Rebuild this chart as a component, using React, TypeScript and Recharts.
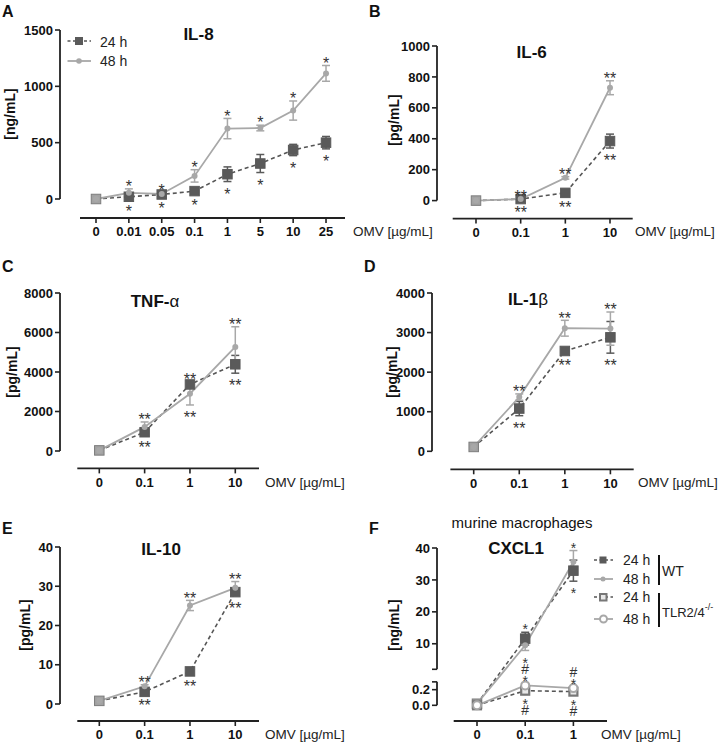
import React from 'react';
import { LineChart, Line, XAxis, YAxis, ErrorBar, ReferenceLine, LabelList } from 'recharts';

const FONT = '"Liberation Sans", Arial, Helvetica, sans-serif';
const DARK = '#5a5a5a';
const LIGHT = '#a8a8a8';
const AXIS = '#222';
const STAR = '#333';

// ---------- Panel A: IL-8 ----------
const il8Doses = ['0', '0.01', '0.05', '0.1', '1', '5', '10', '25'];
const il8H24 = [0, 20, 40, 70, 220, 315, 435, 500];
const il8H24Err = [0, 15, 10, 15, 65, 80, 50, 55];
const il8H48 = [0, 55, 45, 205, 625, 630, 785, 1115];
const il8H48Err = [0, 35, 10, 55, 90, 25, 85, 70];
const il8StarsTop = ['', '*', '*', '*', '*', '*', '*', '*'];
const il8StarsBottom = ['', '*', '*', '*', '*', '*', '*', '*'];
const il8Ticks = [0, 500, 1000, 1500];

// ---------- Panel B: IL-6 ----------
const doses4 = ['0', '0.1', '1', '10'];
const il6H24 = [0, 10, 50, 385];
const il6H24Err = [0, 5, 10, 45];
const il6H48 = [0, 10, 147, 730];
const il6H48Err = [0, 5, 8, 45];
const il6StarsTop = ['', '**', '**', '**'];
const il6StarsBottom = ['', '**', '**', '**'];
const il6Ticks = [0, 200, 400, 600, 800, 1000];

// ---------- Panel C: TNF-α ----------
const tnfH24 = [30, 950, 3370, 4390];
const tnfH24Err = [0, 150, 150, 450];
const tnfH48 = [30, 1220, 2900, 5270];
const tnfH48Err = [0, 250, 570, 1020];
const tnfStarsTop = ['', '**', '**', '**'];
const tnfStarsBottom = ['', '**', '**', '**'];
const tnfTicks = [0, 2000, 4000, 6000, 8000];

// ---------- Panel D: IL-1β ----------
const il1bH24 = [110, 1080, 2535, 2880];
const il1bH24Err = [0, 180, 45, 400];
const il1bH48 = [110, 1370, 3110, 3100];
const il1bH48Err = [0, 80, 200, 420];
const il1bStarsTop = ['', '**', '**', '**'];
const il1bStarsBottom = ['', '**', '**', '**'];
const il1bTicks = [0, 1000, 2000, 3000, 4000];

// ---------- Panel E: IL-10 ----------
const il10H24 = [0.8, 3.1, 8.3, 28.5];
const il10H24Err = [0, 0.3, 0.5, 0.8];
const il10H48 = [0.8, 4.5, 25.1, 29.6];
const il10H48Err = [0, 0.4, 1.3, 1.6];
const il10StarsTop = ['', '**', '**', '**'];
const il10StarsBottom = ['', '**', '**', '**'];
const il10Ticks = [0, 10, 20, 30, 40];

// ---------- Panel F: CXCL1 (murine macrophages) ----------
const cxclDoses = ['0', '0.1', '1'];
const cxclWt24 = [0.02, 11.6, 32.9];
const cxclWt24Err = [0, 2.0, 3.3];
const cxclWt48 = [0.02, 9.5, 35.7];
const cxclWt48Err = [0, 1.6, 3.5];
const cxclTlr24 = [0.0, 0.187, 0.175];
const cxclTlr24Err = [0, 0.02, 0.02];
const cxclTlr48 = [0.0, 0.255, 0.22];
const cxclTlr48Err = [0, 0.02, 0.02];
const cxclWtTop = ['', '*', '*'];
const cxclWtBottom = ['', '*', '*'];
const cxclTlrTop = ['', '#\n*', '#\n*'];
const cxclTlrBottom = ['', '*\n#', '*\n#'];
const cxclTickValues = [0, 0.2, 0.3, 2, 10, 20, 30, 40];
const cxclTickLabels = ['0.0', '0.2', '', '', '10', '20', '30', '40'];

// broken-axis mapping for panel F (lower segment 0–0.3, upper segment 2–40)
const F_LOW_MAX = 0.3, F_HIGH_MIN = 2, F_HIGH_MAX = 40;
const F_LOW_SPAN = 23.5, F_GAP_SPAN = 12.6, F_HIGH_SPAN = 121.6;
const brk = (v: number) =>
  v <= F_LOW_MAX
    ? (v / F_LOW_MAX) * F_LOW_SPAN
    : v >= F_HIGH_MIN
    ? F_LOW_SPAN + F_GAP_SPAN + ((v - F_HIGH_MIN) / (F_HIGH_MAX - F_HIGH_MIN)) * F_HIGH_SPAN
    : F_LOW_SPAN + ((v - F_LOW_MAX) / (F_HIGH_MIN - F_LOW_MAX)) * F_GAP_SPAN;

type Layout = {
  plotLeft: number; plotRight: number; axisStartX: number; tick0X: number; stepX: number;
  plotTop: number; yTopVal: number; zeroY: number; plotBottom: number;
};
type SeriesDef = { key: string; errKey: string; color: string; lineColor: string; dash?: string; width: number; marker: string };
type LabelDef = { key: string; textKey: string; dir: 'up' | 'down' };

function makeDot(marker: string, color: string) {
  return (p: any) => {
    const { cx, cy, index } = p;
    if (cx == null || cy == null || Number.isNaN(cy)) return <g key={`n${index}`} />;
    if (marker === 'square') {
      const s = 9.5;
      const zero = index === 0;
      return (
        <rect key={`s${index}`} x={cx - s / 2} y={cy - s / 2} width={s} height={s}
          fill={zero ? '#a2a2a2' : color} stroke={zero ? '#7c7c7c' : color} strokeWidth={1} />
      );
    }
    if (marker === 'circle') return <circle key={`c${index}`} cx={cx} cy={cy} r={3} fill={color} />;
    if (marker === 'hsquare') {
      const s = 8;
      return <rect key={`h${index}`} x={cx - s / 2} y={cy - s / 2} width={s} height={s} fill="#e8e8e8" stroke={color} strokeWidth={2.2} />;
    }
    return <circle key={`o${index}`} cx={cx} cy={cy} r={4} fill="#fff" stroke={color} strokeWidth={2} />;
  };
}

function makeStarLabel(dir: 'up' | 'down', fs: number) {
  return (props: any) => {
    const t = props.value;
    if (!t || typeof t !== 'string') return null;
    const x = props.x ?? props.viewBox?.x;
    const y = props.y ?? props.viewBox?.y;
    if (x == null || y == null) return null;
    const lines = t.split('\n');
    const step = 9;
    return (
      <text x={x} textAnchor="middle" fontSize={fs} fontFamily={FONT} fill={STAR}>
        {lines.map((ln, k) => {
          const center = dir === 'up' ? y - 6 - (lines.length - 1 - k) * step : y + 9 + k * step;
          const base = center + (ln.includes('#') ? 0.36 : 0.58) * fs;
          return (
            <tspan key={k} x={x} y={base}>{ln}</tspan>
          );
        })}
      </text>
    );
  };
}

const tickStyle = { fontFamily: FONT, fontWeight: 'bold' as const, fontSize: 13, fill: '#111' };

function Panel(props: {
  layout: Layout; rows: any[]; xLabels: string[]; yTicks: number[];
  yFmt: (v: number) => string; ySegments: number[][]; series: SeriesDef[]; labels: LabelDef[]; starFs: number;
}) {
  const { layout: L, rows, xLabels, yTicks, yFmt, ySegments, series, labels, starFs } = props;
  const YW = 50, MT = 25, MR = 8, XH = 30;
  const k = (L.zeroY - L.plotTop) / L.yTopVal;
  const yMin = -(L.plotBottom - L.zeroY) / k;
  const xMin = (L.plotLeft - L.tick0X) / L.stepX;
  const xMax = (L.plotRight - L.tick0X) / L.stepX;
  const xAxisStart = (L.axisStartX - L.tick0X) / L.stepX;
  const w = L.plotRight - L.plotLeft + YW + MR;
  const h = L.plotBottom - L.plotTop + MT + XH;
  return (
    <div style={{ position: 'absolute', left: L.plotLeft - YW, top: L.plotTop - MT }}>
      <LineChart width={w} height={h} data={rows} margin={{ top: MT, right: MR, bottom: 0, left: 0 }}>
        <XAxis type="number" dataKey="i" domain={[xMin, xMax]} allowDataOverflow
          ticks={xLabels.map((_, i) => i)} interval={0}
          tickFormatter={(v: number) => xLabels[Math.round(v)] ?? ''}
          axisLine={false} tickLine={{ stroke: AXIS, strokeWidth: 1.6 }} tickSize={5} tickMargin={4}
          tick={tickStyle} height={XH} />
        <YAxis type="number" domain={[yMin, L.yTopVal]} allowDataOverflow ticks={yTicks} interval={0}
          tickFormatter={yFmt} axisLine={false} tickLine={{ stroke: AXIS, strokeWidth: 1.6 }}
          tickSize={5} tickMargin={2} tick={tickStyle} width={YW} />
        <ReferenceLine segment={[{ x: xAxisStart, y: yMin }, { x: xMax, y: yMin }]}
          stroke={AXIS} strokeWidth={1.8} ifOverflow="visible" />
        {ySegments.map((s, j) => (
          <ReferenceLine key={`ys${j}`} segment={[{ x: xMin, y: s[0] }, { x: xMin, y: s[1] }]}
            stroke={AXIS} strokeWidth={1.8} ifOverflow="visible" />
        ))}
        {series.map((s) => (
          <Line key={s.key} type="linear" dataKey={s.key} stroke={s.lineColor} strokeWidth={s.width}
            strokeDasharray={s.dash} dot={makeDot(s.marker, s.color)} activeDot={false}
            isAnimationActive={false} legendType="none">
            <ErrorBar dataKey={s.errKey} width={4} strokeWidth={1.5} stroke={s.color} direction="y" />
          </Line>
        ))}
        {labels.map((l) => (
          <Line key={l.key} type="linear" dataKey={l.key} stroke="none" dot={false} activeDot={false}
            isAnimationActive={false} legendType="none">
            <LabelList dataKey={l.textKey} content={makeStarLabel(l.dir, starFs)} />
          </Line>
        ))}
      </LineChart>
    </div>
  );
}

function buildRows(h24: number[], e24: number[], h48: number[], e48: number[], top: string[], bottom: string[]) {
  return h24.map((v, i) => ({
    i,
    h24: v, e24: e24[i], h48: h48[i], e48: e48[i],
    top: Math.max(v + e24[i], h48[i] + e48[i]),
    bot: Math.min(v - e24[i], h48[i] - e48[i]),
    topTxt: top[i], botTxt: bottom[i],
  }));
}

const stdSeries: SeriesDef[] = [
  { key: 'h24', errKey: 'e24', color: DARK, lineColor: '#555', dash: '4 3', width: 1.6, marker: 'square' },
  { key: 'h48', errKey: 'e48', color: LIGHT, lineColor: LIGHT, width: 1.8, marker: 'circle' },
];
const stdLabels: LabelDef[] = [
  { key: 'top', textKey: 'topTxt', dir: 'up' },
  { key: 'bot', textKey: 'botTxt', dir: 'down' },
];

const brkErr = (v: number, e: number) => [brk(v) - brk(v - e), brk(v + e) - brk(v)];
const fRows = cxclDoses.map((_, i) => ({
  i,
  wt24: brk(cxclWt24[i]), wt24e: brkErr(cxclWt24[i], cxclWt24Err[i]),
  wt48: brk(cxclWt48[i]), wt48e: brkErr(cxclWt48[i], cxclWt48Err[i]),
  tlr24: brk(cxclTlr24[i]), tlr24e: brkErr(cxclTlr24[i], cxclTlr24Err[i]),
  tlr48: brk(cxclTlr48[i]), tlr48e: brkErr(cxclTlr48[i], cxclTlr48Err[i]),
  wtTop: brk(Math.max(cxclWt24[i] + cxclWt24Err[i], cxclWt48[i] + cxclWt48Err[i])),
  wtBot: brk(Math.min(cxclWt24[i] - cxclWt24Err[i], cxclWt48[i] - cxclWt48Err[i])),
  tlrTop: brk(Math.max(cxclTlr24[i] + cxclTlr24Err[i], cxclTlr48[i] + cxclTlr48Err[i])),
  tlrBot: brk(Math.min(cxclTlr24[i] - cxclTlr24Err[i], cxclTlr48[i] - cxclTlr48Err[i])),
  wtTopTxt: cxclWtTop[i], wtBotTxt: cxclWtBottom[i], tlrTopTxt: cxclTlrTop[i], tlrBotTxt: cxclTlrBottom[i],
}));
const fSeries: SeriesDef[] = [
  { key: 'wt24', errKey: 'wt24e', color: DARK, lineColor: '#555', dash: '4 3', width: 1.6, marker: 'square' },
  { key: 'wt48', errKey: 'wt48e', color: LIGHT, lineColor: LIGHT, width: 1.8, marker: 'circle' },
  { key: 'tlr24', errKey: 'tlr24e', color: '#777', lineColor: '#555', dash: '4 3', width: 1.6, marker: 'hsquare' },
  { key: 'tlr48', errKey: 'tlr48e', color: LIGHT, lineColor: LIGHT, width: 1.8, marker: 'hcircle' },
];
const fLabels: LabelDef[] = [
  { key: 'wtTop', textKey: 'wtTopTxt', dir: 'up' },
  { key: 'wtBot', textKey: 'wtBotTxt', dir: 'down' },
  { key: 'tlrTop', textKey: 'tlrTopTxt', dir: 'up' },
  { key: 'tlrBot', textKey: 'tlrBotTxt', dir: 'down' },
];
const fTickDisplay = cxclTickValues.map(brk);
const fFmt = (v: number) => {
  let best = 0;
  fTickDisplay.forEach((t, j) => { if (Math.abs(t - v) < Math.abs(fTickDisplay[best] - v)) best = j; });
  return cxclTickLabels[best];
};

const numFmt = (v: number) => String(v);

function Overlay() {
  const letter = (t: string, x: number, y: number) => (
    <text x={x} y={y} fontSize={16} fontWeight="bold" fill="#111">{t}</text>
  );
  const yLabel = (t: string, cx: number, cy: number) => (
    <text x={cx} y={cy} transform={`rotate(-90 ${cx} ${cy})`} textAnchor="middle" dominantBaseline="central"
      fontSize={14} fontWeight="bold" fill="#111">{t}</text>
  );
  const omv = (x: number, y: number) => (
    <text x={x} y={y} fontSize={13.5} fill="#222">OMV [µg/mL]</text>
  );
  return (
    <svg width={723} height={745} style={{ position: 'absolute', left: 0, top: 0, pointerEvents: 'none' }} fontFamily={FONT}>
      {letter('A', 2, 17)}
      {letter('B', 369, 17)}
      {letter('C', 2, 272)}
      {letter('D', 364, 272)}
      {letter('E', 2, 534)}
      {letter('F', 369, 534)}

      <text x={198.5} y={39.5} textAnchor="middle" fontSize={17} fontWeight="bold" fill="#111">IL-8</text>
      <text x={531.7} y={58} textAnchor="middle" fontSize={17} fontWeight="bold" fill="#111">IL-6</text>
      <text x={155} y={306.5} textAnchor="middle" fontSize={17} fill="#111">
        <tspan fontWeight="bold">TNF-</tspan><tspan>α</tspan>
      </text>
      <text x={528} y={305} textAnchor="middle" fontSize={17} fill="#111">
        <tspan fontWeight="bold">IL-1</tspan><tspan>β</tspan>
      </text>
      <text x={161} y={555} textAnchor="middle" fontSize={17} fontWeight="bold" fill="#111">IL-10</text>
      <text x={516} y={554} textAnchor="middle" fontSize={17} fontWeight="bold" fill="#111">CXCL1</text>
      <text x={522} y={528} textAnchor="middle" fontSize={15} fill="#111">murine macrophages</text>

      {yLabel('[ng/mL]', 10, 114)}
      {yLabel('[pg/mL]', 393.5, 120)}
      {yLabel('[pg/mL]', 11.5, 372)}
      {yLabel('[pg/mL]', 391.5, 372)}
      {yLabel('[pg/mL]', 25, 625)}
      {yLabel('[ng/mL]', 393.5, 625)}

      {omv(353, 236)}
      {omv(635, 236)}
      {omv(265, 487)}
      {omv(638, 487)}
      {omv(265, 739)}
      {omv(601, 739)}

      {/* legend A */}
      <line x1={67.5} y1={41} x2={91} y2={41} stroke="#555" strokeWidth={1.6} strokeDasharray="3 2.5" />
      <rect x={75} y={37} width={8} height={8} fill={DARK} />
      <text x={100} y={46.5} fontSize={14} fill="#222">24 h</text>
      <line x1={67.5} y1={61} x2={91} y2={61} stroke={LIGHT} strokeWidth={1.8} />
      <circle cx={79} cy={61} r={2.8} fill={LIGHT} />
      <text x={100} y={66} fontSize={14} fill="#222">48 h</text>

      {/* legend F */}
      <line x1={594} y1={560} x2={613} y2={560} stroke="#555" strokeWidth={1.6} strokeDasharray="3 2.5" />
      <rect x={599.5} y={556.5} width={7} height={7} fill={DARK} />
      <text x={623} y={564.5} fontSize={14} fill="#222">24 h</text>
      <line x1={594} y1={579} x2={613} y2={579} stroke={LIGHT} strokeWidth={1.8} />
      <circle cx={603} cy={579} r={2.5} fill={LIGHT} />
      <text x={623} y={583.5} fontSize={14} fill="#222">48 h</text>
      <line x1={594} y1={597} x2={613} y2={597} stroke="#555" strokeWidth={1.6} strokeDasharray="3 2.5" />
      <rect x={600} y={594} width={6.5} height={6.5} fill="#e8e8e8" stroke="#777" strokeWidth={2} />
      <text x={623} y={602} fontSize={14} fill="#222">24 h</text>
      <line x1={594} y1={619} x2={613} y2={619} stroke={LIGHT} strokeWidth={1.8} />
      <circle cx={603.5} cy={619} r={3.5} fill="#fff" stroke={LIGHT} strokeWidth={2} />
      <text x={623} y={623.5} fontSize={14} fill="#222">48 h</text>
      <line x1={659} y1={555} x2={659} y2={585} stroke="#111" strokeWidth={2} />
      <line x1={659} y1={593} x2={659} y2={627} stroke="#111" strokeWidth={2} />
      <text x={662} y={576} fontSize={14} fill="#222">WT</text>
      <text x={662} y={617} fontSize={13} fill="#222">
        TLR2/4<tspan fontSize={9} dy={-7}>-/-</tspan>
      </text>
    </svg>
  );
}

export default function App() {
  return (
    <div style={{ position: 'absolute', left: 0, top: 0, width: 723, height: 745, background: '#fff', overflow: 'hidden', fontFamily: FONT }}>
      <Panel
        layout={{ plotLeft: 60, plotRight: 345, axisStartX: 80, tick0X: 96, stepX: 32.86, plotTop: 30, yTopVal: 1500, zeroY: 199, plotBottom: 218 }}
        rows={buildRows(il8H24, il8H24Err, il8H48, il8H48Err, il8StarsTop, il8StarsBottom)}
        xLabels={il8Doses} yTicks={il8Ticks} yFmt={numFmt} ySegments={[[0, 1500]]}
        series={stdSeries} labels={stdLabels} starFs={16} />
      <Panel
        layout={{ plotLeft: 437, plotRight: 632.7, axisStartX: 452.7, tick0X: 476, stepX: 44.67, plotTop: 45.7, yTopVal: 1000, zeroY: 200.3, plotBottom: 218.3 }}
        rows={buildRows(il6H24, il6H24Err, il6H48, il6H48Err, il6StarsTop, il6StarsBottom)}
        xLabels={doses4} yTicks={il6Ticks} yFmt={numFmt} ySegments={[[0, 1000]]}
        series={stdSeries} labels={stdLabels} starFs={16} />
      <Panel
        layout={{ plotLeft: 60, plotRight: 259, axisStartX: 77.3, tick0X: 99.3, stepX: 45.33, plotTop: 293.3, yTopVal: 8000, zeroY: 451.3, plotBottom: 468.7 }}
        rows={buildRows(tnfH24, tnfH24Err, tnfH48, tnfH48Err, tnfStarsTop, tnfStarsBottom)}
        xLabels={doses4} yTicks={tnfTicks} yFmt={numFmt} ySegments={[[0, 8000]]}
        series={stdSeries} labels={stdLabels} starFs={16} />
      <Panel
        layout={{ plotLeft: 432.3, plotRight: 634, axisStartX: 450.7, tick0X: 474, stepX: 45.57, plotTop: 292.7, yTopVal: 4000, zeroY: 451, plotBottom: 469 }}
        rows={buildRows(il1bH24, il1bH24Err, il1bH48, il1bH48Err, il1bStarsTop, il1bStarsBottom)}
        xLabels={doses4} yTicks={il1bTicks} yFmt={numFmt} ySegments={[[0, 4000]]}
        series={stdSeries} labels={stdLabels} starFs={16} />
      <Panel
        layout={{ plotLeft: 60, plotRight: 259, axisStartX: 77.3, tick0X: 99.3, stepX: 45.33, plotTop: 546.7, yTopVal: 40, zeroY: 703.7, plotBottom: 720.7 }}
        rows={buildRows(il10H24, il10H24Err, il10H48, il10H48Err, il10StarsTop, il10StarsBottom)}
        xLabels={doses4} yTicks={il10Ticks} yFmt={numFmt} ySegments={[[0, 40]]}
        series={stdSeries} labels={stdLabels} starFs={16} />
      <Panel
        layout={{ plotLeft: 437.3, plotRight: 607.3, axisStartX: 454, tick0X: 477.3, stepX: 48.2, plotTop: 547.7, yTopVal: brk(40), zeroY: 705, plotBottom: 720.7 }}
        rows={fRows}
        xLabels={cxclDoses} yTicks={fTickDisplay} yFmt={fFmt}
        ySegments={[[brk(0), brk(0.3)], [brk(2), brk(40)]]}
        series={fSeries} labels={fLabels} starFs={14} />
      <Overlay />
    </div>
  );
}
